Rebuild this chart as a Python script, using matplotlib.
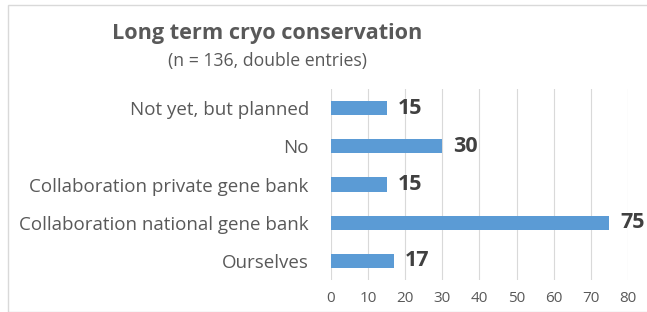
import matplotlib.pyplot as plt
import matplotlib
from matplotlib.patches import Rectangle

matplotlib.rcParams['font.family'] = 'Open Sans'

categories = ['Ourselves', 'Collaboration national gene bank', 'Collaboration private gene bank',
              'No', 'Not yet, but planned']
values = [17, 75, 15, 30, 15]
ticks = [0, 10, 20, 30, 40, 50, 60, 70, 80]

fig = plt.figure(figsize=(6.47, 3.12), dpi=100)
ax = fig.add_axes([0.5116, 0.1026, 0.4590, 0.6121])

# chart border
fig.patches.append(Rectangle((8 / 647, 0.0), 1.0, 1 - 5 / 312, transform=fig.transFigure,
                             fill=False, edgecolor='#D9D9D9', linewidth=1))

bars = ax.barh(range(len(categories)), values, height=0.37, color='#5B9BD5', zorder=3)
ax.bar_label(bars, labels=[str(v) for v in values], padding=8, fontsize=15.5,
             fontweight='bold', color='#404040')

ax.set_xlim(0, 80)
ax.set_ylim(-0.5, len(categories) - 0.5)
ax.set_xticks(ticks)
ax.set_yticks(range(len(categories)))
ax.set_yticklabels(categories)
ax.tick_params(axis='x', length=0, labelsize=11, labelcolor='#595959', pad=8)
ax.tick_params(axis='y', length=0, labelsize=13.5, labelcolor='#595959', pad=16)
ax.grid(axis='x', color='#D9D9D9', linewidth=0.8, zorder=0)
for s in ax.spines.values():
    s.set_visible(False)

fig.text(0.413, 1 - 33 / 312, 'Long term cryo conservation', ha='center', va='center',
         fontsize=15.6, fontweight='bold', color='#595959')
fig.text(0.414, 1 - 61 / 312, '(n = 136, double entries)', ha='center', va='center',
         fontsize=12.7, color='#595959')

plt.savefig('out.png', dpi=100)
